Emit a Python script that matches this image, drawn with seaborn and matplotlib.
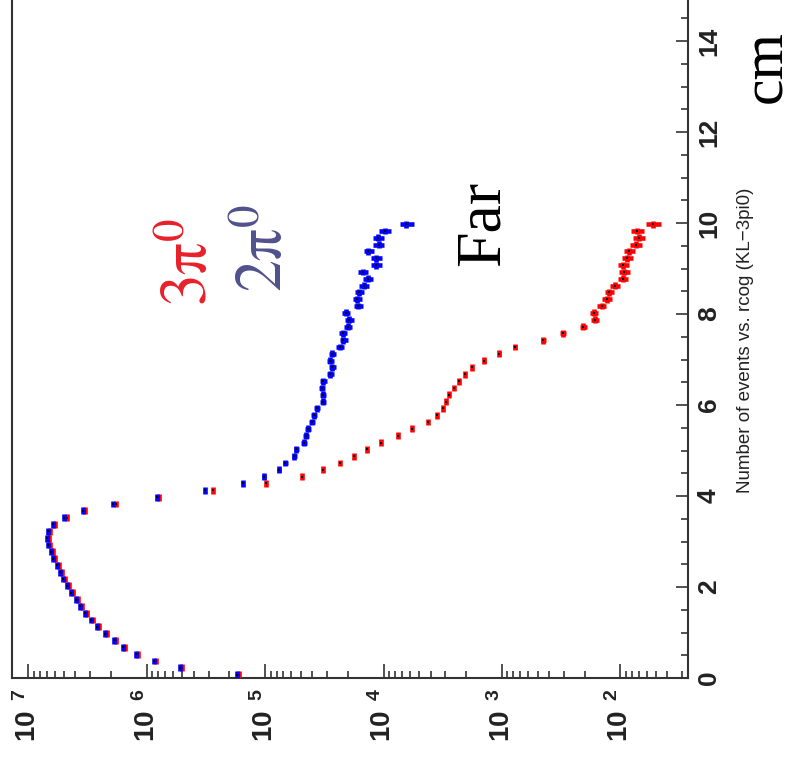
import numpy as np
import pandas as pd
import matplotlib
matplotlib.use("Agg")
import matplotlib.pyplot as plt
import seaborn as sns
from matplotlib.ticker import FixedLocator, LogLocator, NullFormatter, MultipleLocator

sns.set_theme(style="white")
plt.rcParams["font.family"] = ["Liberation Sans", "DejaVu Sans"]
plt.rcParams["mathtext.fontset"] = "custom"
plt.rcParams["mathtext.rm"] = "Liberation Sans"
plt.rcParams["mathtext.bf"] = "Liberation Sans:bold"
plt.rcParams["mathtext.it"] = "Liberation Sans:italic"

# ---------------- data ----------------
bin_width = 0.15                       # cm, histogram bins from 0 to 15
n_bins_drawn = 67
rcog_centers = 0.075 + bin_width * np.arange(n_bins_drawn)

counts_2pi0 = [1.73e5, 5.24e5, 8.75e5, 1.23e6, 1.58e6, 1.90e6, 2.24e6, 2.61e6, 2.95e6, 3.30e6,
               3.66e6, 3.95e6, 4.36e6, 4.69e6, 5.06e6, 5.40e6, 5.75e6, 6.15e6, 6.47e6, 6.78e6,
               7.00e6, 6.78e6, 6.22e6, 4.95e6, 3.43e6, 1.91e6, 8.22e5, 3.22e5, 1.55e5, 1.02e5,
               7.59e4, 6.75e4, 5.70e4, 5.45e4, 4.69e4, 4.52e4, 4.35e4, 4.02e4, 3.90e4, 3.65e4,
               3.24e4, 3.24e4, 3.30e4, 3.22e4, 2.81e4, 2.70e4, 2.83e4, 2.70e4, 2.34e4, 2.18e4,
               2.20e4, 2.01e4, 1.95e4, 2.07e4, 1.63e4, 1.67e4, 1.61e4, 1.46e4, 1.36e4, 1.49e4,
               1.16e4, 1.15e4, 1.34e4, 1.10e4, 1.11e4, 9.8e3, 6.4e3]

counts_3pi0 = [1.66e5, 5.03e5, 8.40e5, 1.18e6, 1.52e6, 1.83e6, 2.15e6, 2.51e6, 2.83e6, 3.17e6,
               3.51e6, 3.79e6, 4.19e6, 4.50e6, 4.86e6, 5.18e6, 5.52e6, 5.90e6, 6.21e6, 6.51e6,
               6.72e6, 6.51e6, 5.97e6, 4.75e6, 3.29e6, 1.83e6, 7.89e5, 2.77e5, 9.9e4, 4.91e4,
               3.22e4, 2.33e4, 1.77e4, 1.37e4, 1.05e4, 7.59e3, 5.78e3, 4.19e3, 3.52e3, 3.13e3,
               2.96e3, 2.78e3, 2.54e3, 2.30e3, 2.05e3, 1.78e3, 1.41e3, 1.05e3, 774, 447,
               303, 206, 164, 167, 144, 130, 124, 111, 95, 93,
               94, 88, 84, 74, 70, 72, 53]

# weight per entry of each histogram (for the statistical error bars)
entry_weight = {"3pi0": 1.0, "2pi0": 128.0}

count_ticks = [1e2, 1e3, 1e4, 1e5, 1e6, 1e7]
count_tick_labels = [r"$\mathbf{10}^{\ \ \mathbf{2}}$", r"$\mathbf{10}^{\ \ \mathbf{3}}$",
                     r"$\mathbf{10}^{\ \ \mathbf{4}}$", r"$\mathbf{10}^{\ \ \mathbf{5}}$",
                     r"$\mathbf{10}^{\ \ \mathbf{6}}$", r"$\mathbf{10}^{\ \ \mathbf{7}}$"]
rcog_ticks = [0, 2, 4, 6, 8, 10, 12, 14]

frames = []
for name, vals in [("3pi0", counts_3pi0), ("2pi0", counts_2pi0)]:
    v = np.asarray(vals, dtype=float)
    frames.append(pd.DataFrame({"series": name, "rcog": rcog_centers, "counts": v,
                                "err": np.sqrt(v * entry_weight[name])}))
df = pd.concat(frames, ignore_index=True)

# ---------------- figure ----------------
W, H = 798, 760
fig = plt.figure(figsize=(W / 100, H / 100), dpi=100)
fig.patch.set_facecolor("white")
ax = fig.add_axes([12 / W, (H - 678) / H, 676 / W, 682.5 / H])
ax.set_facecolor("white")

colors = {"3pi0": "#ff0000", "2pi0": "#0000ff"}
for k, name in enumerate(["3pi0", "2pi0"]):
    sub = df[df.series == name]
    ax.errorbar(sub["counts"], sub["rcog"], xerr=sub["err"], yerr=bin_width / 2,
                fmt="none", ecolor=colors[name], elinewidth=3.3, capsize=0,
                zorder=3 + 2 * k)
    sns.scatterplot(data=sub, x="counts", y="rcog", color="black", marker="s", s=1.2,
                    linewidth=0, ax=ax, legend=False, zorder=4 + 2 * k)

ax.set_xscale("log")
ax.set_xlim(10 ** 7.138, 10 ** 1.428)
ax.set_ylim(0, 15)
ax.set_xlabel("")
ax.set_ylabel("")

for side in ["left", "bottom", "right", "top"]:
    ax.spines[side].set_visible(True)
    ax.spines[side].set_color("#333333")
    ax.spines[side].set_linewidth(1.5)

# count axis (horizontal, log)
ax.xaxis.set_major_locator(FixedLocator(count_ticks))
ax.xaxis.set_minor_locator(LogLocator(base=10, subs=np.arange(2, 10), numticks=30))
ax.xaxis.set_minor_formatter(NullFormatter())
ax.set_xticklabels(count_tick_labels, rotation=90, fontsize=20, va="top", ha="center")
ax.tick_params(axis="x", which="major", direction="in", length=10, width=1.1,
               bottom=True, top=False, pad=7, colors="#222222")
ax.tick_params(axis="x", which="minor", direction="in", length=5, width=1.1,
               bottom=True, top=False, colors="#222222")

# rcog axis (vertical, labels on the right)
ax.yaxis.tick_right()
ax.yaxis.set_major_locator(FixedLocator(rcog_ticks))
ax.yaxis.set_minor_locator(MultipleLocator(0.5))
ax.set_yticklabels([str(t) for t in rcog_ticks], rotation=90, fontsize=19,
                   fontweight="bold", va="center", ha="left")
ax.tick_params(axis="y", which="major", direction="in", length=8.6, width=1.1,
               left=False, right=True, labelleft=False, labelright=True, pad=6.5,
               colors="#222222")
ax.tick_params(axis="y", which="minor", direction="in", length=4.8, width=1.1,
               left=False, right=True, colors="#222222")
ax.grid(False)

# texts
fig.text(745 / W, 1 - 340 / H, "Number of events vs. rcog (KL\u22123pi0)", rotation=90,
         fontsize=13.5, ha="center", va="center", color="#222222")
fig.text(484 / W, 1 - 223 / H, "Far", rotation=90, fontsize=46, ha="center", va="center",
         family="Liberation Serif", color="black")
fig.text(767 / W, 1 - 67 / H, "cm", rotation=90, fontsize=43, ha="center", va="center",
         family="Liberation Serif", color="black")
fig.text(190 / W, 1 - 262 / H, "$\\mathrm{3\u03c0}^{0}$", rotation=90, fontsize=46,
         ha="center", va="center", color="#e8202a", math_fontfamily="stix")
fig.text(265 / W, 1 - 248 / H, "$\\mathrm{2\u03c0}^{0}$", rotation=90, fontsize=46,
         ha="center", va="center", color="#50508c", math_fontfamily="stix")

fig.savefig("out.png", dpi=100, facecolor="white")
